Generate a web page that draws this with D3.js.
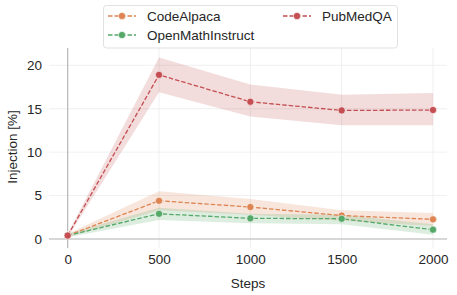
<!DOCTYPE html>
<html><head><meta charset="utf-8">
<script src="https://cdn.jsdelivr.net/npm/d3@7"></script>
<style>body{margin:0;background:#fff}svg{font-family:"Liberation Sans",Arial,sans-serif}</style>
</head><body><svg id="c" width="457" height="295"></svg>
<script>
const steps = [0, 500, 1000, 1500, 2000];
const xTicks = [0, 500, 1000, 1500, 2000];
const yTicks = [0, 5, 10, 15, 20];
const seriesNames = ["CodeAlpaca", "OpenMathInstruct", "PubMedQA"];
const codeAlpaca = [0.4, 4.4, 3.68, 2.7, 2.26];
const codeAlpacaLo = [0.2, 3.3, 2.8, 2.1, 1.5];
const codeAlpacaHi = [0.6, 5.5, 4.6, 3.3, 3.0];
const openMath = [0.4, 2.9, 2.38, 2.33, 1.07];
const openMathLo = [0.2, 2.2, 1.8, 1.7, 0.5];
const openMathHi = [0.6, 3.6, 2.9, 2.8, 1.7];
const pubMed = [0.4, 18.9, 15.8, 14.8, 14.85];
const pubMedLo = [0.2, 16.9, 14.1, 13.1, 13.1];
const pubMedHi = [0.6, 20.9, 17.8, 16.6, 16.8];
const colors = ["#dd8452", "#55a868", "#c44e52"];

const svg = d3.select("#c");
const x = d3.scaleLinear().domain([0, 2000]).range([67.7, 433]);
const y = d3.scaleLinear().domain([0, 20]).range([239, 65.3]);
const plotL = 49, plotR = 447, plotT = 48, plotB = 248;

// grid
const g = svg.append("g");
g.selectAll(".vg").data(xTicks.slice(1)).enter().append("line")
  .attr("x1", d => x(d)).attr("x2", d => x(d)).attr("y1", plotT).attr("y2", plotB)
  .attr("stroke", "#ececec").attr("stroke-width", 0.8);
g.selectAll(".hg").data(yTicks.slice(1)).enter().append("line")
  .attr("y1", d => y(d)).attr("y2", d => y(d)).attr("x1", plotL).attr("x2", plotR)
  .attr("stroke", "#ececec").attr("stroke-width", 0.8);

const data = [
  {name: seriesNames[0], v: codeAlpaca, lo: codeAlpacaLo, hi: codeAlpacaHi, c: colors[0]},
  {name: seriesNames[1], v: openMath, lo: openMathLo, hi: openMathHi, c: colors[1]},
  {name: seriesNames[2], v: pubMed, lo: pubMedLo, hi: pubMedHi, c: colors[2]}
];
const area = d3.area().x((d, i) => x(steps[i])).y0(d => y(d[0])).y1(d => y(d[1]));
const line = d3.line().x((d, i) => x(steps[i])).y(d => y(d));

data.forEach(s => {
  svg.append("path").attr("d", area(s.lo.map((l, i) => [l, s.hi[i]])))
    .attr("fill", s.c).attr("fill-opacity", 0.2).attr("stroke", "none");
});

// spines
svg.append("line").attr("x1", x(0)).attr("x2", x(0)).attr("y1", plotT).attr("y2", plotB)
  .attr("stroke", "#b0b0b0").attr("stroke-width", 1.1);
svg.append("line").attr("x1", plotL).attr("x2", plotR).attr("y1", y(0)).attr("y2", y(0))
  .attr("stroke", "#b0b0b0").attr("stroke-width", 1.1);

data.forEach(s => {
  svg.append("path").attr("d", line(s.v)).attr("fill", "none").attr("stroke", s.c)
    .attr("stroke-width", 1.3).attr("stroke-dasharray", "4.5,2");
  svg.selectAll(null).data(s.v).enter().append("circle")
    .attr("cx", (d, i) => x(steps[i])).attr("cy", d => y(d)).attr("r", 3.6)
    .attr("fill", s.c).attr("stroke", "#fff").attr("stroke-width", 0.6);
});

// axes tick labels
const xa = svg.append("g").attr("transform", `translate(0,${plotB})`)
  .call(d3.axisBottom(x).tickValues(xTicks).tickSize(0).tickPadding(6).tickFormat(d3.format("d")));
xa.select(".domain").remove();
xa.selectAll("text").attr("font-size", 13.5).attr("fill", "#262626").attr("font-family", "Liberation Sans, Arial, sans-serif");
const ya = svg.append("g").attr("transform", `translate(${plotL},0)`)
  .call(d3.axisLeft(y).tickValues(yTicks).tickSize(0).tickPadding(7));
ya.select(".domain").remove();
ya.selectAll("text").attr("font-size", 13.5).attr("fill", "#262626").attr("font-family", "Liberation Sans, Arial, sans-serif");

svg.append("text").attr("x", (plotL + plotR) / 2).attr("y", 288).attr("text-anchor", "middle")
  .attr("font-size", 13.5).attr("fill", "#262626").text("Steps");
svg.append("text").attr("transform", `translate(17,147) rotate(-90)`).attr("text-anchor", "middle")
  .attr("font-size", 13.5).attr("fill", "#262626").text("Injection [%]");

// legend
svg.append("rect").attr("x", 103.5).attr("y", 5.5).attr("width", 294).attr("height", 42.5)
  .attr("rx", 3).attr("fill", "#fff").attr("fill-opacity", 0.85).attr("stroke", "#d9d9d9").attr("stroke-width", 0.8);
const legPos = [{x: 108, y: 16}, {x: 108, y: 35}, {x: 283, y: 16}];
data.forEach((s, i) => {
  const p = legPos[i];
  svg.append("line").attr("x1", p.x).attr("x2", p.x + 28).attr("y1", p.y).attr("y2", p.y)
    .attr("stroke", s.c).attr("stroke-width", 1.3).attr("stroke-dasharray", "4.5,2");
  svg.append("circle").attr("cx", p.x + 14).attr("cy", p.y).attr("r", 3.6).attr("fill", s.c)
    .attr("stroke", "#fff").attr("stroke-width", 0.6);
  svg.append("text").attr("x", p.x + 39).attr("y", p.y).attr("dy", "0.35em")
    .attr("font-size", 13.5).attr("fill", "#262626").text(s.name);
});
</script></body></html>
